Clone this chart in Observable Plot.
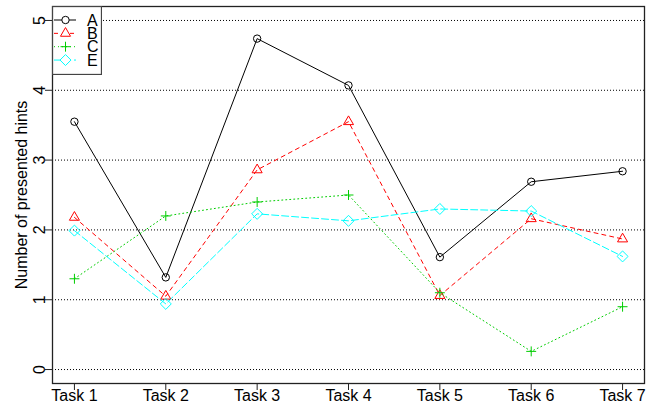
<!DOCTYPE html>
<html>
<head>
<meta charset="utf-8">
<script src="https://cdn.jsdelivr.net/npm/d3@7"></script>
<script src="https://cdn.jsdelivr.net/npm/@observablehq/plot@0.6"></script>
<style>
  html, body { margin: 0; padding: 0; background: white; }
  #wrap { position: relative; width: 662px; height: 409px; font-family: "Liberation Sans", Arial, sans-serif; }
  #legend { position: absolute; left: 52px; top: 6px; }
</style>
</head>
<body>
<div id="wrap"></div>
<script>
const tasks = ["Task 1", "Task 2", "Task 3", "Task 4", "Task 5", "Task 6", "Task 7"];
const seriesNames = ["A", "B", "C", "E"];
const valuesA = [3.55, 1.32, 4.74, 4.07, 1.61, 2.69, 2.84];
const valuesB = [2.18, 1.05, 2.86, 3.55, 1.06, 2.16, 1.87];
const valuesC = [1.30, 2.20, 2.40, 2.50, 1.10, 0.26, 0.90];
const valuesE = [1.99, 0.94, 2.23, 2.13, 2.30, 2.27, 1.62];
const yTicks = [0, 1, 2, 3, 4, 5];
const yLabel = "Number of presented hints";

const seriesValues = [valuesA, valuesB, valuesC, valuesE];
const colors = ["black", "red", "#00CD00", "cyan"];
const dashes = [null, "4,4", "1,3", "7,3"];
const symbols = ["circle", "triangle2", "plus", "diamond2"];
const symbolR = [3.7, 4.8, 3.3, 4.95];

const rows = seriesNames.map((s, k) => seriesValues[k].map((v, i) => ({series: s, task: i + 1, value: v})));

const marks = [
  Plot.ruleY(yTicks, {stroke: "black", strokeDasharray: "1,2", strokeWidth: 1}),
  Plot.axisX(tasks.map((t, i) => i + 1), {tickSize: 7, tickPadding: -1, tickFormat: d => tasks[d - 1], label: null, stroke: "#222", fontSize: 16, fill: "black"}),
  Plot.axisY(yTicks, {tickSize: 7, tickFormat: () => "", label: null, stroke: "#222"}),
  Plot.text(yTicks, {y: d => d, text: d => String(d), frameAnchor: "left", dx: -8, rotate: -90, textAnchor: "middle", lineAnchor: "bottom", fontSize: 16, fill: "black"}),
  Plot.text([yLabel], {text: d => d, frameAnchor: "left", dx: -26, rotate: -90, textAnchor: "middle", lineAnchor: "bottom", fontSize: 16, fill: "black"})
];
rows.forEach((data, k) => {
  marks.push(Plot.line(data, {x: "task", y: "value", stroke: colors[k], strokeWidth: 1, strokeDasharray: dashes[k]}));
  marks.push(Plot.dot(data, {x: "task", y: "value", stroke: colors[k], fill: "white", fillOpacity: 0, strokeWidth: 1, symbol: symbols[k], r: symbolR[k]}));
});
marks.push(Plot.frame({stroke: "#222", strokeWidth: 1.3}));

const chart = Plot.plot({
  width: 662,
  height: 409,
  marginLeft: 52,
  marginRight: 18,
  marginTop: 6,
  marginBottom: 26,
  x: {domain: [0.76, 7.24]},
  y: {domain: [-0.2, 5.2]},
  style: {fontFamily: "'Liberation Sans', Arial, sans-serif", fontSize: "16px", background: "white", color: "black"},
  marks
});
document.getElementById("wrap").appendChild(chart);

// legend (inside plot area, top-left)
const lw = 49, lh = 68;
const leg = d3.select("#wrap").append("svg").attr("id", "legend").attr("width", lw + 1).attr("height", lh + 1);
leg.append("rect").attr("x", 0.5).attr("y", 0.5).attr("width", lw).attr("height", lh)
  .attr("fill", "white").attr("stroke", "#444").attr("stroke-width", 1.3);
const symMap = {circle: d3.symbolCircle, triangle2: d3.symbolTriangle2, plus: d3.symbolPlus, diamond2: d3.symbolDiamond2};
seriesNames.forEach((s, k) => {
  const y = 14 + k * 13.35;
  leg.append("line").attr("x1", 2).attr("x2", 24).attr("y1", y).attr("y2", y)
    .attr("stroke", colors[k]).attr("stroke-width", 1).attr("stroke-dasharray", dashes[k]);
  leg.append("path").attr("transform", `translate(13.5,${y})`)
    .attr("d", d3.symbol(symMap[symbols[k]], symbolR[k] * symbolR[k] * Math.PI)())
    .attr("fill", "white").attr("stroke", colors[k]).attr("stroke-width", 1);
  leg.append("text").attr("x", 35).attr("y", y).attr("dy", "0.36em")
    .attr("font-family", "'Liberation Sans', Arial, sans-serif").attr("font-size", 16).attr("fill", "black").text(s);
});
</script>
</body>
</html>
